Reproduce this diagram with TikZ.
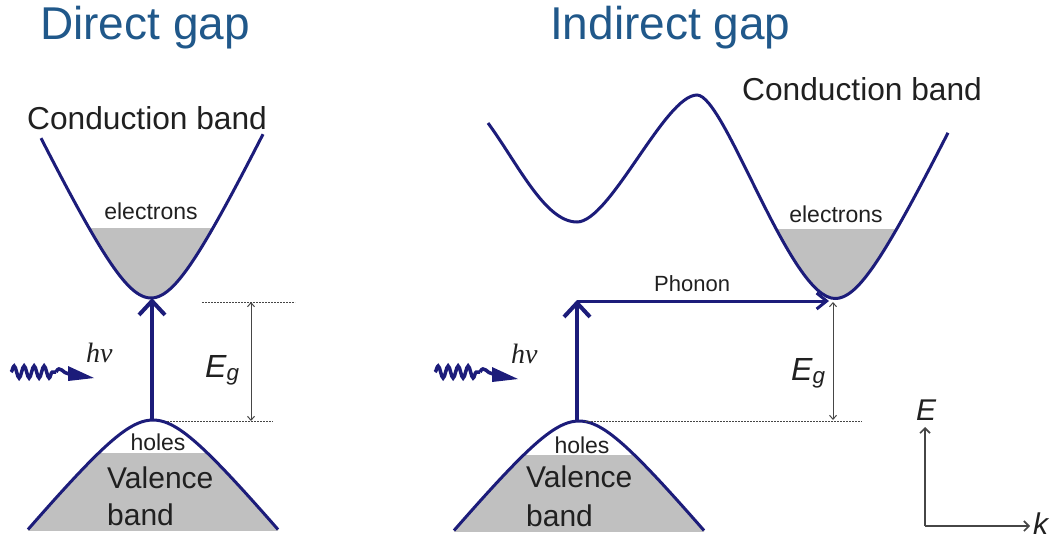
\documentclass[tikz,border=0pt]{standalone}
\usepackage{fontspec}
\setmainfont{Liberation Sans}
\newfontfamily\hnufont{Liberation Serif}
\usetikzlibrary{arrows.meta,decorations.pathmorphing}
\definecolor{bandblue}{RGB}{28,28,122}
\definecolor{titleblue}{RGB}{32,88,138}
\definecolor{fillgray}{RGB}{192,192,192}
\definecolor{txt}{RGB}{32,32,32}
\definecolor{thingray}{RGB}{70,70,70}
\newcommand{\myfs}[1]{\fontsize{#1}{#1}\selectfont}
\begin{document}
\begin{tikzpicture}[x=1pt,y=-1pt,
  bandline/.style={draw=bandblue, line width=3pt},
  gfill/.style={fill=fillgray},
  bigarrow/.style={draw=bandblue, line width=4pt, -{Straight Barb[length=14pt,width=26pt]}},
  phonarrow/.style={draw=bandblue, line width=3pt, -{Straight Barb[length=10pt,width=16pt]}},
  egarrow/.style={draw=thingray, line width=1pt, {Straight Barb[length=4pt,width=7pt]}-{Straight Barb[length=4pt,width=7pt]}},
  dashline/.style={draw=thingray, line width=1pt, dash pattern=on 2pt off 1pt},
  axisline/.style={draw=thingray, line width=1.6pt, -{Straight Barb[length=5pt,width=10pt]}},
  photon/.style={draw=bandblue, line width=3.5pt, decorate, decoration={snake, amplitude=6pt, segment length=10pt}},
  photonline/.style={draw=bandblue, line width=3.5pt},
  phead/.style={fill=bandblue},
  title/.style={font=\myfs{46}, text=titleblue, inner sep=0, anchor=base west},
  bigtxt/.style={font=\myfs{31.7}, text=txt, inner sep=0, anchor=base west},
  valtxt/.style={font=\myfs{30}, text=txt, inner sep=0, anchor=base west},
  smalltxt/.style={font=\myfs{23}, text=txt, inner sep=0, anchor=base},
  hnutxt/.style={font=\hnufont\itshape\myfs{28}, text=txt, inner sep=0, anchor=base west},
  egtxt/.style={font=\itshape\myfs{32}, text=txt, inner sep=0, anchor=base west},
  axtxt/.style={font=\itshape\myfs{30}, text=txt, inner sep=0, anchor=base west}
]
\useasboundingbox (0,0) rectangle (1054,541);

% ---------- titles ----------
\node[title] (t1) at (40,39) {Direct gap};
\node[title] (t2) at (550,39) {Indirect gap};

% ---------- LEFT PANEL ----------
\node[bigtxt] (cbl) at (27,129) {Conduction band};
% conduction band fill
\begin{scope}
  \clip (20,228) rectangle (290,310);
  \fill[gfill] plot[domain=-110:112, samples=80] ({151+\x},{298-83*(sqrt(1+(\x/40)*(\x/40))-1)}) -- cycle;
\end{scope}
\draw[bandline] plot[domain=-110:112, samples=80] ({151+\x},{298-83*(sqrt(1+(\x/40)*(\x/40))-1)});
% valence band fill
\begin{scope}
  \clip (20,453) rectangle (290,530);
  \fill[gfill] plot[domain=-125:125, samples=80] ({153+\x},{420+48*(sqrt(1+(\x/40)*(\x/40))-1)}) -- (278,540) -- (28,540) -- cycle;
\end{scope}
\draw[bandline] plot[domain=-125:125, samples=80] ({153+\x},{420+48*(sqrt(1+(\x/40)*(\x/40))-1)});

\node[smalltxt] (elL) at (151,219) {electrons};
\node[smalltxt] (hoL) at (158,450) {holes};
\node[valtxt] (vaL) at (107,488) {Valence};
\node[valtxt] (baL) at (107,525) {band};

\coordinate (cbL) at (152,298);
\coordinate (vbL) at (152,421);
\draw[bigarrow] (vbL) -- (cbL);

\coordinate (dLt1) at (202,302);
\coordinate (dLt2) at (295,302);
\coordinate (dLb1) at (167,421);
\coordinate (dLb2) at (273,421);
\draw[dashline] (dLt1) -- (dLt2);
\draw[dashline] (dLb1) -- (dLb2);
\coordinate (egLt) at (251,302);
\coordinate (egLb) at (251,421);
\draw[egarrow] (egLt) -- (egLb);
\node[egtxt] (egL) at (205,377) {E\textsubscript{g}};

% photon left
\coordinate (pL1) at (11,372);
\coordinate (pL2) at (56,372);
\coordinate (pL3) at (69,374);
\draw[photon] (pL1) -- (pL2);
\draw[photonline] (pL2) .. controls (60,364) and (63,374) .. (pL3);
\fill[phead] (68,366) -- (94,378) -- (68,381) -- cycle;
\node[hnutxt] (hnuL) at (86,362) {hν};

% ---------- RIGHT PANEL ----------
\node[bigtxt] (cbr) at (742,100) {Conduction band};
\begin{scope}
  \clip (740,229) rectangle (960,310);
  \fill[gfill] (697,95) .. controls (725,95) and (790,298.5) .. (835,298.5)
     -- plot[domain=0:113, samples=60] ({835+\x},{298.5-83*(sqrt(1+(\x/40)*(\x/40))-1)}) -- cycle;
\end{scope}
\draw[bandline] (488,123) .. controls (518,164) and (545,222) .. (577,222)
   .. controls (610,222) and (665,95) .. (697,95)
   .. controls (725,95) and (790,298.5) .. (835,298.5)
   -- plot[domain=0:113, samples=60] ({835+\x},{298.5-83*(sqrt(1+(\x/40)*(\x/40))-1)});
% valence
\begin{scope}
  \clip (440,455) rectangle (720,531);
  \fill[gfill] plot[domain=-125:125, samples=80] ({579+\x},{421+48*(sqrt(1+(\x/40)*(\x/40))-1)}) -- (704,540) -- (454,540) -- cycle;
\end{scope}
\draw[bandline] plot[domain=-125:125, samples=80] ({579+\x},{421+48*(sqrt(1+(\x/40)*(\x/40))-1)});

\node[smalltxt] (elR) at (836,222) {electrons};
\node[smalltxt] (hoR) at (582,453) {holes};
\node[valtxt] (vaR) at (526,487) {Valence};
\node[valtxt] (baR) at (526,526) {band};
\node[font=\myfs{22}, text=txt, inner sep=0, anchor=base west] (ph) at (654,291) {Phonon};

\coordinate (vbR) at (577,421);
\coordinate (kR) at (577,300);
\coordinate (phS) at (577,301);
\coordinate (phE) at (829,301);
\draw[bigarrow] (vbR) -- (kR);
\draw[phonarrow] (phS) -- (phE);

\coordinate (dR1) at (585,421);
\coordinate (dR2) at (862,421);
\draw[dashline] (dR1) -- (dR2);
\coordinate (egRt) at (833,302);
\coordinate (egRb) at (833,420);
\draw[egarrow] (egRt) -- (egRb);
\node[egtxt] (egR) at (791,380) {E\textsubscript{g}};

% photon right
\coordinate (pR1) at (435,372);
\coordinate (pR2) at (480,372);
\coordinate (pR3) at (493,374);
\draw[photon] (pR1) -- (pR2);
\draw[photonline] (pR2) .. controls (484,364) and (487,374) .. (pR3);
\fill[phead] (492,367) -- (518,379) -- (492,382) -- cycle;
\node[hnutxt] (hnuR) at (511,363) {hν};

% axes
\coordinate (o) at (925,526);
\coordinate (ey) at (925,427);
\coordinate (kx) at (1030,526);
\draw[axisline] (o) -- (ey);
\draw[axisline] (o) -- (kx);
\node[axtxt] (Elab) at (916,420) {E};
\node[axtxt] (klab) at (1033,534) {k};
\end{tikzpicture}
\end{document}
